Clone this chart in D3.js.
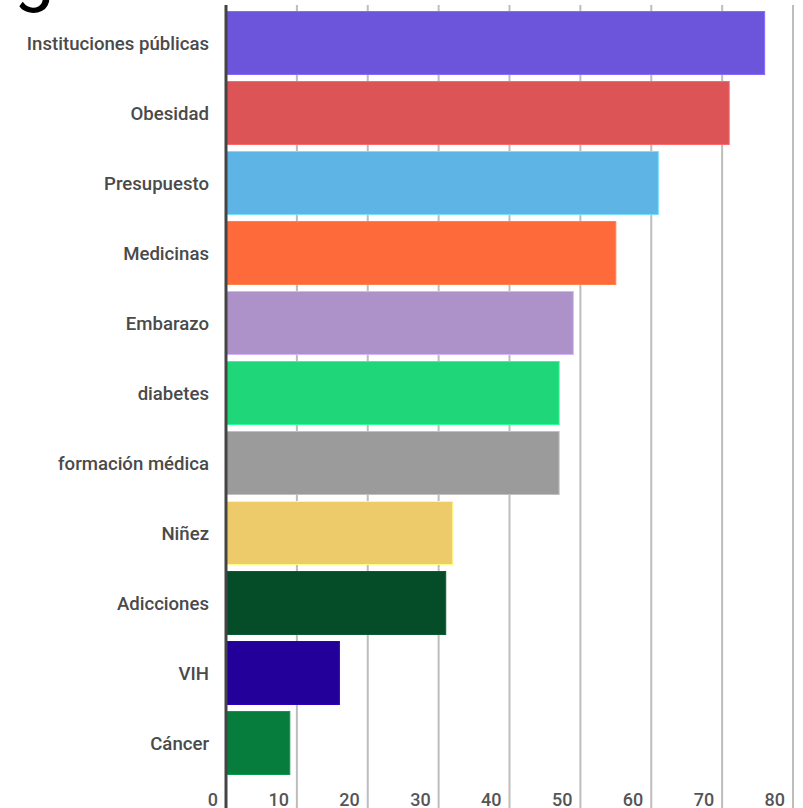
<!DOCTYPE html>
<html><head><meta charset="utf-8">
<script src="https://cdn.jsdelivr.net/npm/d3@7"></script>
<style>html,body{margin:0;padding:0;background:#fff;overflow:hidden}</style>
</head><body>
<svg id="c" width="803" height="808"></svg>
<script>
const categories = ["Instituciones públicas","Obesidad","Presupuesto","Medicinas","Embarazo","diabetes","formación médica","Niñez","Adicciones","VIH","Cáncer"];
const values = [76,71,61,55,49,47,47,32,31,16,9];
const colors = ["#6c55da","#dc5456","#5eb5e5","#fe6a3a","#ac92c9","#1fd678","#9b9b9b","#eecb6a","#054c28","#24009a","#077d3d"];
const tickValues = [0,10,20,30,40,50,60,70,80];
const titleText = "g";

const svg = d3.select("#c");
const x = d3.scaleLinear().domain([0,80]).range([226,793]);
const y = d3.scaleBand().domain(categories).range([8,778]).paddingInner(0.1).paddingOuter(0.05);

svg.append("text").attr("x",14).attr("y",-3).attr("font-family","Roboto, sans-serif")
  .attr("font-size",72).attr("fill","#000").text(titleText);

// gridlines
svg.append("g").selectAll("line").data(tickValues.slice(1)).join("line")
  .attr("x1",d=>x(d)).attr("x2",d=>x(d)).attr("y1",5).attr("y2",808)
  .attr("stroke","#bdbdbd").attr("stroke-width",2);

// bars
svg.append("g").selectAll("rect").data(categories).join("rect")
  .attr("x",x(0)).attr("y",d=>y(d))
  .attr("width",(d,i)=>x(values[i])-x(0)).attr("height",y.bandwidth())
  .attr("fill",(d,i)=>colors[i])
  .attr("stroke",(d,i)=>d3.color(colors[i]).brighter(0.6)).attr("stroke-width",1);

// axis line
svg.append("line").attr("x1",x(0)).attr("x2",x(0)).attr("y1",5).attr("y2",808)
  .attr("stroke","#444").attr("stroke-width",3);

// category labels
svg.append("g").selectAll("text").data(categories).join("text")
  .attr("x",209).attr("y",d=>y(d)+y.bandwidth()/2).attr("dy","0.35em")
  .attr("text-anchor","end").attr("font-family","Roboto, sans-serif").attr("font-weight",500)
  .attr("font-size",18.6).attr("fill","#4a4a4a").text(d=>d);

// tick labels
svg.append("g").selectAll("text").data(tickValues).join("text")
  .attr("x",d=>x(d)-8).attr("y",806)
  .attr("text-anchor","end").attr("font-family","Roboto, sans-serif").attr("font-weight",500)
  .attr("font-size",18).attr("fill","#555").text(d=>d);
</script>
</body></html>
